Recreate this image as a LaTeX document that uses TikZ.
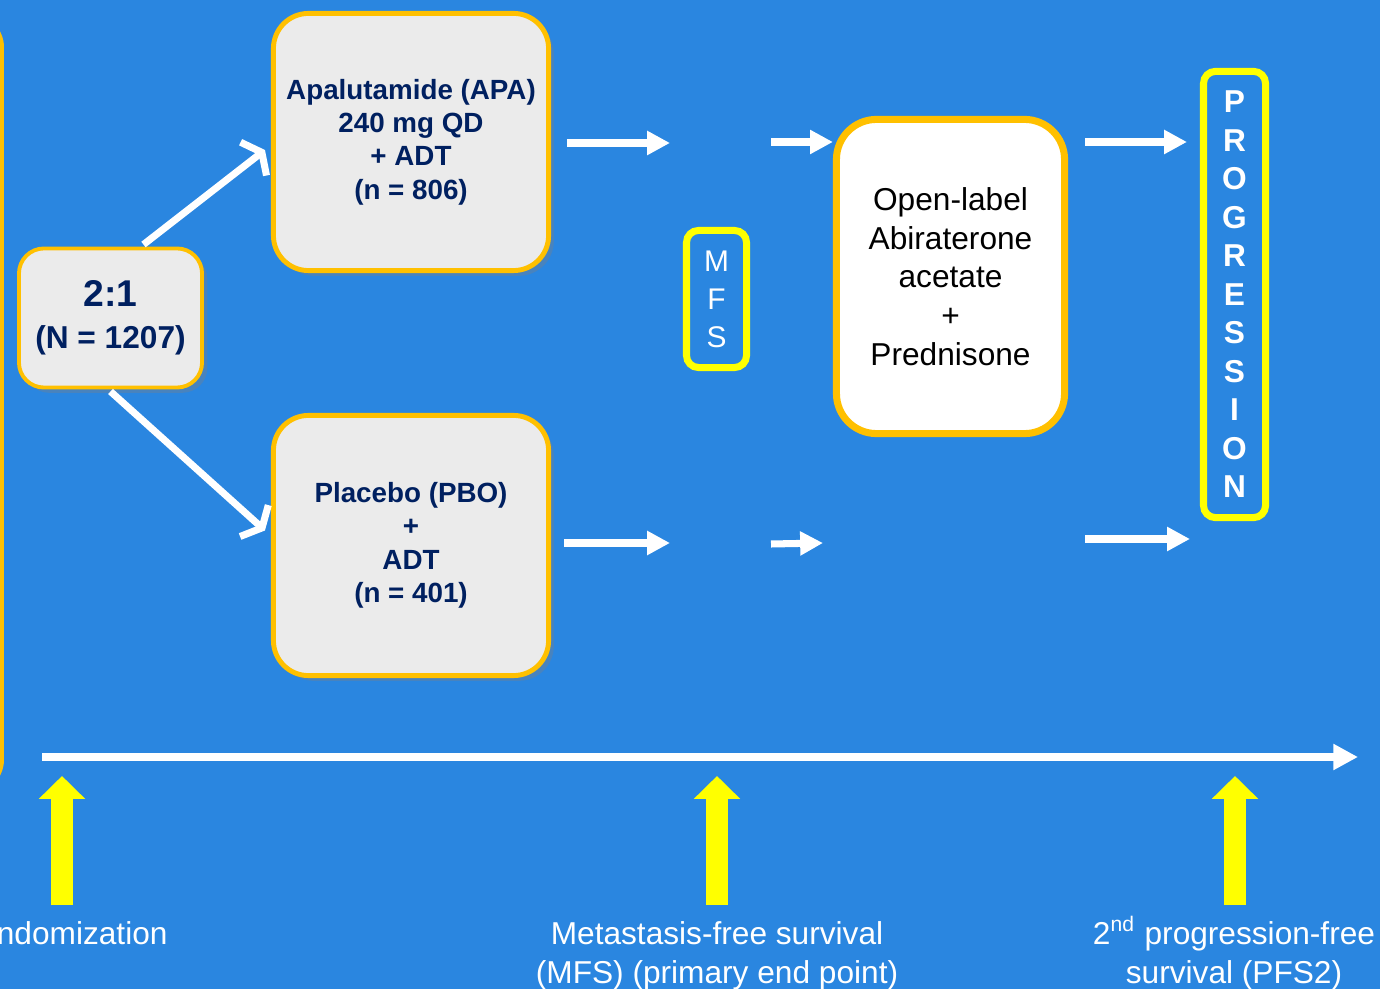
\documentclass[tikz,border=0pt]{standalone}
\usepackage{fontspec}
\setmainfont{Liberation Sans}
\usetikzlibrary{arrows.meta, positioning, calc, shadows}
\definecolor{slidebg}{HTML}{2A86E0}
\definecolor{armgold}{HTML}{FFC000}
\definecolor{armfill}{HTML}{EBEBEB}
\definecolor{armtext}{HTML}{002060}
\definecolor{markyellow}{HTML}{FFFF00}

\begin{document}
\begin{tikzpicture}[
    x=0.01cm, y=-0.01cm,
    armbox/.style={
        rectangle,
        rounded corners=0.35cm,
        draw=armgold,
        fill=armfill,
        line width=1.4pt,
        minimum width=2.75cm,
        minimum height=2.57cm,
        inner sep=0pt,
        align=center,
        text=armtext,
        font=\bfseries\fontsize{7.9}{9.5}\selectfont,
        drop shadow={shadow xshift=1.5pt, shadow yshift=-1.5pt, opacity=0.35}
    },
    ratiobox/.style={
        armbox,
        rounded corners=0.25cm,
        line width=1.1pt,
        minimum width=1.83cm,
        minimum height=1.39cm,
        font=\bfseries\fontsize{9}{12}\selectfont
    },
    openbox/.style={
        rectangle,
        rounded corners=0.4cm,
        draw=armgold,
        fill=white,
        line width=2pt,
        minimum width=2.28cm,
        minimum height=3.14cm,
        inner sep=0pt,
        align=center,
        font=\fontsize{9}{11}\selectfont
    },
    endbox/.style={
        rectangle,
        rounded corners=0.12cm,
        draw=markyellow,
        line width=2pt,
        minimum width=0.6cm,
        minimum height=1.37cm,
        inner sep=0pt,
        align=center,
        text=white,
        font=\fontsize{8.5}{10.8}\selectfont
    },
    flowarrow/.style={
        -{Triangle[length=6.5pt, width=6.5pt]},
        line width=2pt,
        draw=white
    },
    splitarrow/.style={
        -{Straight Barb[length=3pt, width=12pt]},
        line width=2pt,
        draw=white
    },
    timearrow/.style={
        -{Triangle[length=7pt, width=7pt]},
        line width=2.3pt,
        draw=white
    },
    marker/.style={
        -{Triangle[length=6.5pt, width=12.8pt]},
        line width=6.3pt,
        draw=markyellow
    },
    timelabel/.style={
        anchor=north,
        align=center,
        inner sep=0pt,
        text=white,
        font=\fontsize{9}{11.1}\selectfont
    }
]

\useasboundingbox (0,0) rectangle (1380,989);
\clip (0,0) rectangle (1380,989);
\fill[slidebg] (0,0) rectangle (1380,989);

% box cut off at the left edge
\draw[armgold, line width=1.4pt, rounded corners=0.3cm] (-100,17) rectangle (1.5,790);

% Boxes
\node[ratiobox] (ratio) at (110.5,318) {{\fontsize{10.6}{12}\selectfont 2:1}\\(N = 1207)};
\node[armbox] (apa) at (411,142) {Apalutamide (APA)\\240 mg QD\\+ ADT\\(n = 806)};
\node[armbox, minimum height=2.6cm] (pbo) at (411,545.5) {Placebo (PBO)\\+\\ADT\\(n = 401)};
\node[endbox] (mfs) at (716.5,299) {M\\F\\S};
\node[openbox] (abi) at (950.5,276.5) {Open-label\\Abiraterone\\acetate\\+\\Prednisone};
\node[endbox, minimum width=0.62cm, minimum height=4.46cm,
      font=\bfseries\fontsize{9}{10.95}\selectfont] (prog) at (1234.5,294.5)
    {P\\R\\O\\G\\R\\E\\S\\S\\I\\O\\N};

% Split arrows
\draw[splitarrow] ($(ratio.north)+(33,-2)$) -- ($(apa.west)+(-6,8)$);
\draw[splitarrow] ($(ratio.south)+(0,2)$) -- ($(pbo.west)+(-6,-15)$);

% Arrows - top row
\coordinate (apaout) at (567,143);
\coordinate (apaend) at (670,143);
\coordinate (abiin) at (771,142);
\coordinate (abiout) at (1085,142);
\draw[flowarrow] (apaout) -- (apaend);
\draw[flowarrow] (abiin) -- (abi.west |- abiin);
\draw[flowarrow] (abiout) -- ($(prog.west |- abiout)+(-13,0)$);

% Arrows - bottom row
\coordinate (pboout) at (564,543);
\coordinate (pboend) at (670,543);
\coordinate (pbomid) at (771,544);
\coordinate (pbonext) at (823,543);
\coordinate (pbolast) at (1085,539);
\draw[flowarrow] (pboout) -- (pboend);
\draw[flowarrow] (pbomid) -- (pbonext);
\draw[flowarrow] (pbolast) -- ($(prog.west |- pbolast)+(-10,0)$);

% Timeline
\coordinate (tstart) at (42,757);
\coordinate (tend) at (1358,757);
\draw[timearrow] (tstart) -- (tend);

% Time points
\node[timelabel] (randlbl) at (62,921) {Randomization};
\node[timelabel] (mfslbl) at (717,921) {Metastasis-free survival\\(MFS) (primary end point)};
\node[timelabel] (pfslbl) at (1234,921) {2\smash{\textsuperscript{nd}} progression-free\\survival (PFS2)};
\draw[marker] ($(randlbl.north)+(0,-16)$) -- ($(randlbl.north)+(0,-145)$);
\draw[marker] ($(mfslbl.north)+(0,-16)$) -- ($(mfslbl.north)+(0,-145)$);
\draw[marker] ($(pfslbl.north)+(1,-16)$) -- ($(pfslbl.north)+(1,-145)$);

\end{tikzpicture}
\end{document}
